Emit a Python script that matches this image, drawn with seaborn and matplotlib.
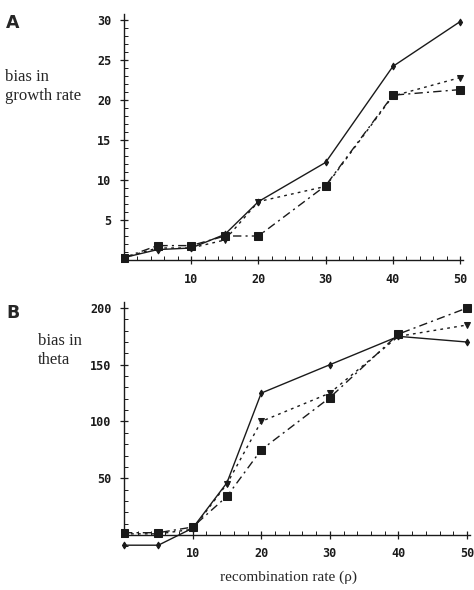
import matplotlib
matplotlib.use("Agg")
import matplotlib.pyplot as plt
import seaborn as sns
import pandas as pd
from matplotlib.ticker import MultipleLocator

rho = [0, 5, 10, 15, 20, 30, 40, 50]
# Panel A: bias in growth rate
growth_solid = [0.3, 1.3, 1.5, 3.2, 7.3, 12.2, 24.2, 29.8]
growth_dotted = [0.3, 1.5, 1.5, 2.5, 7.3, 9.2, 20.5, 22.8]
growth_dashdot = [0.3, 1.8, 1.8, 3.0, 3.0, 9.3, 20.6, 21.3]
# Panel B: bias in theta
theta_solid = [-9, -9, 6, 46, 125, 150, 175, 170]
theta_dotted = [1, 1, 5, 45, 100, 125, 175, 185]
theta_dashdot = [2, 2, 7, 34, 75, 121, 177, 200]

sns.set_style("white")
plt.rcParams['font.family'] = ['DejaVu Sans']

W, H = 474, 590
fig = plt.figure(figsize=(W / 100, H / 100), dpi=100)

def px_axes(left, top, right, bottom):
    return fig.add_axes([left / W, 1 - bottom / H, (right - left) / W, (bottom - top) / H])

styles = [
    dict(linestyle='-', marker='d', markersize=3.5),
    dict(linestyle=(0, (2, 3)), marker='v', markersize=4),
    dict(linestyle=(0, (6, 3, 1.5, 3)), marker='s', markersize=6),
]

def draw(ax, series, ylim, ymin, yticks, xpad):
    for vals, st in zip(series, styles):
        df = pd.DataFrame({'rho': rho, 'v': vals})
        sns.lineplot(data=df, x='rho', y='v', ax=ax, color='#1a1a1a', lw=1.0,
                     markeredgecolor='#1a1a1a', **st)
    ax.set_xlim(-0.5, 50.8)
    ax.set_ylim(*ylim)
    ax.spines['left'].set_position(('data', 0))
    ax.spines['bottom'].set_position(('data', 0))
    ax.spines['top'].set_visible(False)
    ax.spines['right'].set_visible(False)
    for s in ['left', 'bottom']:
        ax.spines[s].set_color('#1a1a1a')
        ax.spines[s].set_linewidth(1.0)
    ax.spines['left'].set_bounds(0, ylim[1])
    ax.spines['bottom'].set_bounds(0, 50.5)
    ax.set_xticks([10, 20, 30, 40, 50])
    ax.xaxis.set_minor_locator(MultipleLocator(2))
    ax.set_yticks(yticks)
    ax.yaxis.set_minor_locator(MultipleLocator(ymin))
    ax.tick_params(axis='both', which='both', bottom=True, left=True, top=False, right=False)
    ax.tick_params(axis='both', which='major', direction='inout', length=6, width=0.9,
                   colors='#1a1a1a', labelsize=8.5)
    ax.tick_params(axis='both', which='minor', direction='in', length=3, width=0.7,
                   colors='#1a1a1a')
    ax.tick_params(axis='x', which='major', pad=xpad)
    ax.tick_params(axis='y', which='major', pad=6)
    for lab in ax.get_xticklabels() + ax.get_yticklabels():
        lab.set_family('DejaVu Sans Mono')
        lab.set_fontweight('bold')
    ax.set_xlabel('')
    ax.set_ylabel('')
    ax.grid(False)

axA = px_axes(120.6, 13.6, 465.5, 264)
draw(axA, [growth_solid, growth_dotted, growth_dashdot], (-0.5, 30.8), 1,
     [5, 10, 15, 20, 25, 30], 6)

axB = px_axes(120.6, 302.3, 472.5, 548.6)
draw(axB, [theta_solid, theta_dotted, theta_dashdot], (-12, 205), 10,
     [50, 100, 150, 200], 6)

serif = ['Liberation Serif', 'DejaVu Serif']
fig.text(6 / W, 1 - 28 / H, 'A', fontsize=12.5, fontweight='bold', family='DejaVu Sans')
fig.text(6 / W, 1 - 318 / H, 'B', fontsize=12.5, fontweight='bold', family='DejaVu Sans')
fig.text(5 / W, 1 - 104 / H, 'bias in\ngrowth rate', fontsize=12, family=serif,
         linespacing=1.22, va='bottom')
fig.text(38 / W, 1 - 368 / H, 'bias in\ntheta', fontsize=12, family=serif,
         linespacing=1.22, va='bottom')
fig.text(289 / W, 1 - 577 / H, 'recombination rate (\u03c1)', fontsize=11, family=serif,
         ha='center', va='center')

fig.savefig('out.png', dpi=100)
